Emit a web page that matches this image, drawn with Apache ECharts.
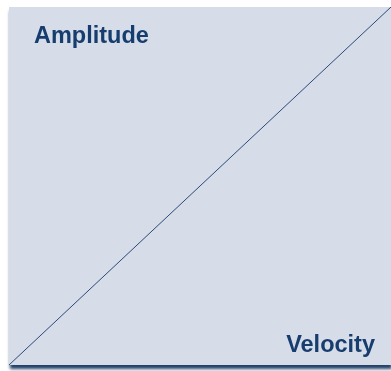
<!DOCTYPE html>
<html>
<head>
<meta charset="utf-8">
<script src="https://cdn.jsdelivr.net/npm/echarts@6/dist/echarts.min.js"></script>
<style>
  html, body { margin: 0; padding: 0; background: #fff; }
  #chart { width: 391px; height: 371px; }
</style>
</head>
<body>
<div id="chart"></div>
<script>
// velocity vs amplitude, straight line corner to corner
var velocity = [0, 1];
var amplitude = [0, 1];
var xLabel = 'Velocity';
var yLabel = 'Amplitude';

var points = velocity.map(function (v, i) { return [v, amplitude[i]]; });

var chart = echarts.init(document.getElementById('chart'));
chart.setOption({
	animation: false,
	backgroundColor: '#ffffff',
	grid: {
		show: true,
		left: 9,
		right: -3,
		top: 7,
		bottom: 6,
		backgroundColor: '#d6dde9',
		borderWidth: 0,
		shadowColor: 'rgba(35, 65, 105, 1)',
		shadowBlur: 3,
		shadowOffsetX: 1,
		shadowOffsetY: 4
	},
	xAxis: {
		type: 'value',
		min: 0,
		max: 1,
		show: false
	},
	yAxis: {
		type: 'value',
		min: 0,
		max: 1,
		show: false
	},
	graphic: [{
		type: 'text',
		left: 34,
		top: 25,
		style: {
			text: yLabel,
			fill: '#173d6e',
			font: 'bold 23.5px "Liberation Sans", Arial, sans-serif'
		}
	}, {
		type: 'text',
		right: 16,
		top: 334,
		style: {
			text: xLabel,
			fill: '#173d6e',
			font: 'bold 23.5px "Liberation Sans", Arial, sans-serif'
		}
	}],
	series: [{
		type: 'line',
		data: points,
		symbol: 'none',
		lineStyle: { color: '#2a4a78', width: 1 }
	}]
});
</script>
</body>
</html>
